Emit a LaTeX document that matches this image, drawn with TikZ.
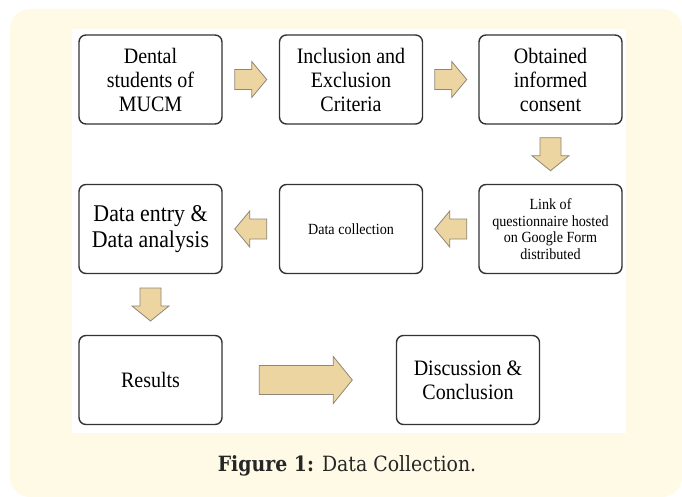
\documentclass[tikz,border=0pt]{standalone}
\usepackage{fontspec}
\newfontfamily\boxfont[FakeStretch=0.91]{Liberation Serif}
\newfontfamily\capfont[FakeStretch=0.9]{DejaVu Serif}
\definecolor{panel}{HTML}{FEFAE6}
\definecolor{arrowfill}{HTML}{EDD5A1}
\definecolor{arrowline}{HTML}{8C8778}
\tikzset{
  stage/.style={draw=black!80, line width=1.4pt, rounded corners=7pt,
    minimum width=143pt, minimum height=89pt, align=center, text=black,
    font=\boxfont\fontsize{22}{24}\selectfont},
  pics/fatarrow/.style args={#1/#2/#3/#4}{code={
    \draw[fill=arrowfill, draw=arrowline, line width=0.8pt, line join=miter]
      (-#1/2,-#3/2) -- (#1/2-#2,-#3/2) -- (#1/2-#2,-#4/2) -- (#1/2,0)
      -- (#1/2-#2,#4/2) -- (#1/2-#2,#3/2) -- (-#1/2,#3/2) -- cycle;
  }}
}
\begin{document}
\begin{tikzpicture}[x=1pt, y=-1pt]
      \useasboundingbox (0,0) rectangle (682,497);
      \fill[panel, rounded corners=20pt] (10,9) rectangle (682,497);
      \fill[white] (72,29) rectangle (626,433);
      \draw
        (150.5,79.5) node[stage] (1){Dental\\students of\\MUCM}
        (351,79.5) node[stage] (2){Inclusion and\\Exclusion\\Criteria}
        (550.5,79.5) node[stage] (3){Obtained\\informed\\consent}
        (550.5,229) node[stage, font=\boxfont\fontsize{15.5}{16.5}\selectfont] (6){Link of\\questionnaire hosted\\on Google Form\\distributed}
        (351,229) node[stage, font=\boxfont\fontsize{15.5}{17}\selectfont] (5){Data collection}
        (150.5,229) node[stage, font=\boxfont\fontsize{24}{26}\selectfont] (4){Data entry \&\\Data analysis}
        (150.5,380) node[stage] (7){Results}
        (468,380) node[stage] (8){Discussion \&\\Conclusion};
      \node[font=\capfont\fontsize{21}{24}\selectfont, text=black!85] (cap) at (347,466)
        {\textbf{Figure 1:} Data Collection.};
      \begin{scope}
        \path (1.east) -- (2.west) pic[midway]{fatarrow=32/15/20/36};
        \path (2.east) -- (3.west) pic[midway]{fatarrow=32/15/20/36};
        \path (3.south) -- (6.north) pic[midway, rotate=-90]{fatarrow=33/15/21/37};
        \path (6.west) -- (5.east) pic[midway, rotate=180]{fatarrow=32/15/20/36};
        \path (5.west) -- (4.east) pic[midway, rotate=180]{fatarrow=32/15/20/36};
        \path (4.south) -- (7.north) pic[midway, rotate=-90]{fatarrow=33/15/21/37};
        \path (7.east) -- (8.west) pic[pos=0.48]{fatarrow=93/19/29/47};
      \end{scope}
    \end{tikzpicture}
\end{document}
